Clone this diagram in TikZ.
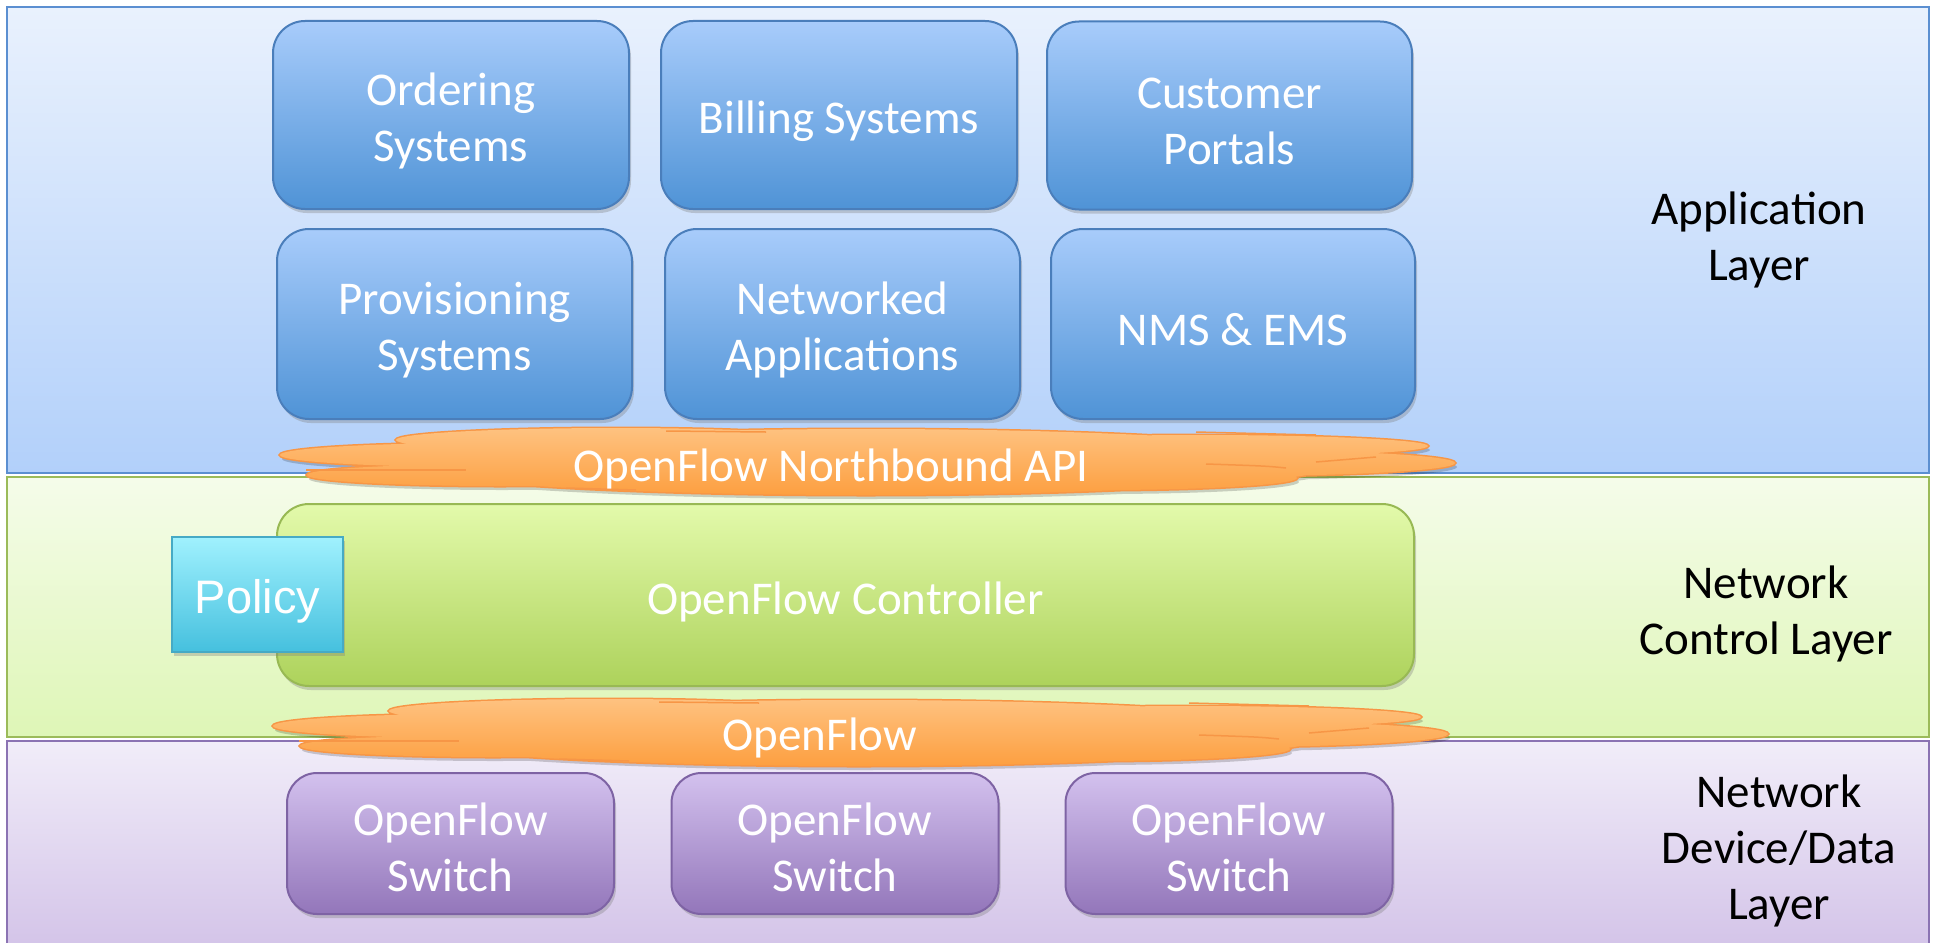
\documentclass[tikz,border=0pt]{standalone}
\usepackage{fontspec}
\setmainfont{Carlito}
\newfontfamily\arialfont{Liberation Sans}
\usetikzlibrary{shadows}

\definecolor{panelBlueTop}{HTML}{E9F1FD}
\definecolor{panelBlueBot}{HTML}{B2D0FA}
\definecolor{panelBlueLine}{HTML}{5B8FD1}
\definecolor{panelGreenTop}{HTML}{F5FCEA}
\definecolor{panelGreenBot}{HTML}{DEF6B6}
\definecolor{panelGreenLine}{HTML}{9BBB59}
\definecolor{panelPurpTop}{HTML}{F1EDF9}
\definecolor{panelPurpBot}{HTML}{D3C3E8}
\definecolor{panelPurpLine}{HTML}{8B73B3}
\definecolor{boxBlueTop}{HTML}{A8CCFB}
\definecolor{boxBlueBot}{HTML}{4F93D6}
\definecolor{boxBlueLine}{HTML}{4A7EBB}
\definecolor{ctrlTop}{HTML}{E3FAAB}
\definecolor{ctrlBot}{HTML}{ADD25B}
\definecolor{ctrlLine}{HTML}{98B954}
\definecolor{swTop}{HTML}{D3C1EE}
\definecolor{swBot}{HTML}{9376BA}
\definecolor{swLine}{HTML}{7E63A4}
\definecolor{polTop}{HTML}{A0F1FE}
\definecolor{polBot}{HTML}{45C0DE}
\definecolor{polLine}{HTML}{46AAC5}
\definecolor{cloudTop}{HTML}{FEC280}
\definecolor{cloudBot}{HTML}{FD9F40}
\definecolor{cloudLine}{HTML}{F79646}

\newcommand\bxfnt{\fontsize{47}{56}\selectfont}

\tikzset{
  panelbox/.style={rectangle, inner sep=0pt, line width=2.5pt},
  shadowed/.style={drop shadow={opacity=0.35, shadow xshift=2pt, shadow yshift=-4pt}},
  boxtext/.style={text=white, font=\bxfnt, align=center, inner sep=0pt, yshift=-6pt},
  swtext/.style={boxtext, yshift=2pt},
  appbox/.style={rectangle, rounded corners=32pt, draw=boxBlueLine, line width=2pt,
    top color=boxBlueTop, bottom color=boxBlueBot, shadowed,
    label={[boxtext]center:{#1}}},
  ctrlbox/.style={rectangle, rounded corners=32pt, draw=ctrlLine, line width=2pt,
    top color=ctrlTop, bottom color=ctrlBot, shadowed,
    label={[boxtext, yshift=-1pt]center:{#1}}},
  switchbox/.style={rectangle, rounded corners=30pt, draw=swLine, line width=2pt,
    top color=swTop, bottom color=swBot,
    minimum width=327pt, minimum height=141pt, shadowed,
    label={[swtext]center:{#1}}},
  policybox/.style={rectangle, draw=polLine, line width=2pt, top color=polTop,
    bottom color=polBot, minimum width=171pt, minimum height=115pt, shadowed,
    label={[boxtext, yshift=-1pt, font={\arialfont\fontsize{47}{56}\selectfont}]center:{#1}}},
  layerlabel/.style={align=center, text=black, font=\bxfnt, yshift=-5pt},
  cloudtext/.style={text=white, font=\bxfnt, yshift=-5pt},
  cloud/.pic={
    \def\cloudpath{
      (0,0) ellipse [x radius=480pt, y radius=33pt]
      (-386,-7) ellipse [x radius=200pt, y radius=12pt]
      (-366,13) ellipse [x radius=193pt, y radius=11pt]
      (-250,-22) ellipse [x radius=220pt, y radius=12pt]
      (334,-16) ellipse [x radius=228pt, y radius=11pt]
      (364,1) ellipse [x radius=225pt, y radius=13pt]
      (234,16) ellipse [x radius=197pt, y radius=12pt]}
    \fill[black, opacity=0.18, shift={(2,4)}] \cloudpath;
    \draw[cloudLine, line width=3pt] \cloudpath;
    \shade[top color=cloudTop, bottom color=cloudBot] \cloudpath;
    \draw[cloudLine, line width=1.5pt] (-560,8) -- (-400,8);
    \draw[cloudLine, line width=1.5pt] (-300,26) -- (-230,28);
    \draw[cloudLine, line width=1.5pt] (510,-5) -- (450,0);
    \draw[cloudLine, line width=1.5pt] (340,2) .. controls (400,4) .. (420,6);
    \draw[cloudLine, line width=1.5pt] (-200,-31) -- (-100,-30);
    \draw[cloudLine, line width=1.5pt] (330,-30) -- (450,-27);
  }
}

\begin{document}
\begin{tikzpicture}[x=1pt, y=-1pt]
\useasboundingbox (0,0) rectangle (1937,942);
\fill[white] (0,0) rectangle (1937,942);

% layer panels
\node[panelbox, draw=panelGreenLine, top color=panelGreenTop, bottom color=panelGreenBot,
  minimum width=1922pt, minimum height=260pt] (ctrlpanel) at (968,607) {};
\node[panelbox, draw=panelPurpLine, top color=panelPurpTop, bottom color=panelPurpBot,
  minimum width=1922pt, minimum height=210pt] (datapanel) at (968,846) {};
\node[panelbox, draw=panelBlueLine, top color=panelBlueTop, bottom color=panelBlueBot,
  minimum width=1922pt, minimum height=466pt] (apppanel) at (968,240) {};

% application boxes
\node[appbox={Ordering\\Systems}, minimum width=356pt, minimum height=188pt] (ord) at (451,115) {};
\node[appbox={Billing Systems}, minimum width=356pt, minimum height=188pt] (bill) at (839,115) {};
\node[appbox={Customer\\Portals}, minimum width=365pt, minimum height=188pt] (cust) at (1229.5,115.5) {};
\node[appbox={Provisioning\\Systems}, minimum width=355pt, minimum height=190pt] (prov) at (454.5,324) {};
\node[appbox={Networked\\Applications}, minimum width=355pt, minimum height=190pt] (netapp) at (842.5,324) {};
\node[appbox={NMS \& EMS}, minimum width=364pt, minimum height=190pt] (nms) at (1233,324) {};

% northbound cloud
\pic at (866,462) {cloud};
\node[cloudtext] (nbapi) at (831,464) {OpenFlow Northbound API};

% controller
\node[ctrlbox={OpenFlow Controller}, minimum width=1137pt, minimum height=182pt] (ctrl) at (845.5,595) {};
\node[policybox={Policy}] (policy) at (257.5,594.5) {};

% southbound cloud
\pic at (859,733) {cloud};
\node[cloudtext] (of) at (820,733) {OpenFlow};

% switches
\node[switchbox={OpenFlow\\Switch}] (sw1) at (450.5,843.5) {};
\node[switchbox={OpenFlow\\Switch}] (sw2) at (835,843.5) {};
\node[switchbox={OpenFlow\\Switch}] (sw3) at (1229,843.5) {};

% layer labels
\node[layerlabel] (lapp) at (1759,235) {Application\\Layer};
\node[layerlabel] (lctrl) at (1766,609) {Network\\Control Layer};
\node[layerlabel] (ldata) at (1779,846) {Network\\Device/Data\\Layer};
\end{tikzpicture}
\end{document}
